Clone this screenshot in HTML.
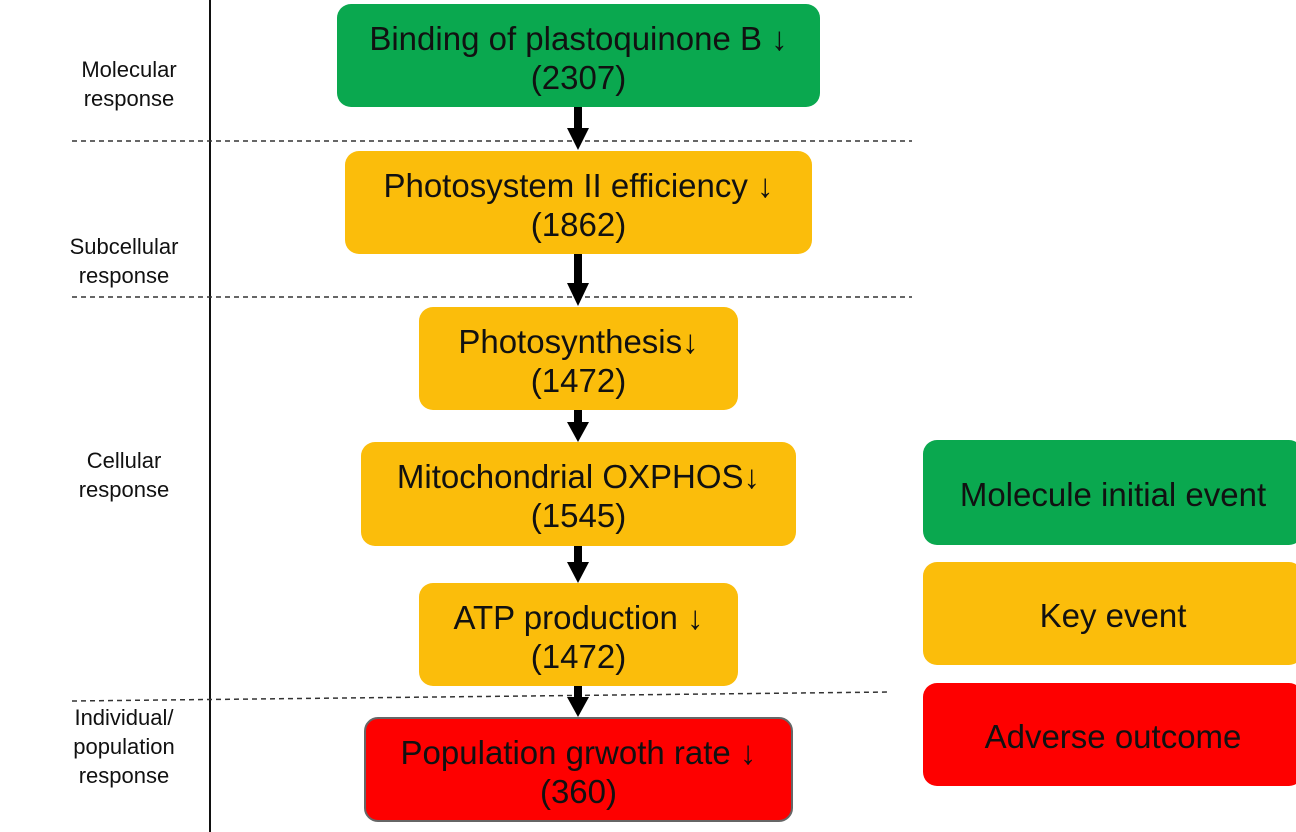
<!DOCTYPE html>
<html><head><meta charset="utf-8"><style>
body{margin:0;width:1296px;height:832px;background:#fff;position:relative;overflow:hidden;font-family:"Liberation Sans",sans-serif;}
.b{position:absolute;border-radius:14px;display:flex;align-items:center;justify-content:center;text-align:center;font-size:33px;line-height:39px;color:#111;box-sizing:border-box;padding-top:4px;}
.g{background:#0aa84f}.o{background:#fbbd0b}.r{background:#fe0000}
.l{position:absolute;font-size:22px;line-height:29px;text-align:center;width:140px;color:#111}
</style></head><body>
<div style="position:absolute;left:209px;top:0;width:2px;height:832px;background:#111"></div>
<svg width="1296" height="832" style="position:absolute;left:0;top:0">
<g stroke="#333" stroke-width="1.5" stroke-dasharray="5,4">
<line x1="72" y1="141" x2="912" y2="141"/>
<line x1="72" y1="297" x2="912" y2="297"/>
<line x1="72" y1="701" x2="890" y2="692"/>
</g>
<g fill="#000">
<rect x="574" y="107" width="8" height="22"/><polygon points="567,128 589,128 578,150"/>
<rect x="574" y="254" width="8" height="30"/><polygon points="567,283 589,283 578,306"/>
<rect x="574" y="410" width="8" height="14"/><polygon points="567,422 589,422 578,442"/>
<rect x="574" y="546" width="8" height="17"/><polygon points="567,562 589,562 578,583"/>
<rect x="574" y="686" width="8" height="12"/><polygon points="567,697 589,697 578,717"/>
</g>
</svg>
<div class="b g" style="left:337px;top:4px;width:483px;height:103px">Binding of plastoquinone B ↓<br>(2307)</div>
<div class="b o" style="left:345px;top:151px;width:467px;height:103px">Photosystem II efficiency ↓<br>(1862)</div>
<div class="b o" style="left:419px;top:307px;width:319px;height:103px">Photosynthesis↓<br>(1472)</div>
<div class="b o" style="left:361px;top:442px;width:435px;height:104px">Mitochondrial OXPHOS↓<br>(1545)</div>
<div class="b o" style="left:419px;top:583px;width:319px;height:103px">ATP production ↓<br>(1472)</div>
<div class="b r" style="left:364px;top:717px;width:429px;height:105px;border:2px solid #666">Population grwoth rate ↓<br>(360)</div>
<div class="b g" style="left:923px;top:440px;width:380px;height:105px">Molecule initial event</div>
<div class="b o" style="left:923px;top:562px;width:380px;height:103px">Key event</div>
<div class="b r" style="left:923px;top:683px;width:380px;height:103px">Adverse outcome</div>
<div class="l" style="left:59px;top:55px">Molecular<br>response</div>
<div class="l" style="left:54px;top:232px">Subcellular<br>response</div>
<div class="l" style="left:54px;top:446px">Cellular<br>response</div>
<div class="l" style="left:54px;top:703px">Individual/<br>population<br>response</div>
</body></html>
